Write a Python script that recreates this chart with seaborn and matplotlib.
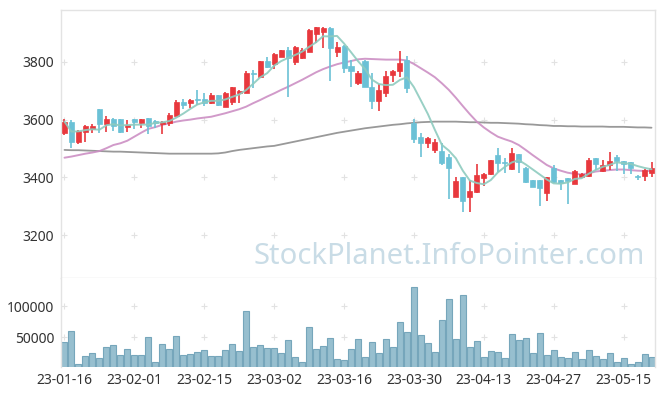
import numpy as np
import pandas as pd
import matplotlib
matplotlib.use("Agg")
import matplotlib.pyplot as plt
import seaborn as sns

# Korean market trading days, 2023-01-16 .. 2023-05-19
holidays = ["2023-01-23", "2023-01-24", "2023-03-01", "2023-05-01", "2023-05-05"]
dates = pd.bdate_range("2023-01-16", "2023-05-19", freq="C", holidays=holidays)

opens = [3555, 3593, 3524, 3558, 3568, 3637, 3586, 3602, 3602, 3576,
         3602, 3590, 3605, 3595, 3586, 3590, 3613, 3661, 3656, 3670,
         3672, 3656, 3686, 3645, 3660, 3691, 3694, 3763, 3749, 3803,
         3792, 3818, 3842, 3801, 3815, 3836, 3897, 3905, 3918, 3836,
         3855, 3786, 3726, 3803, 3714, 3666, 3694, 3755, 3769, 3807,
         3590, 3539, 3520, 3495, 3491, 3471, 3333, 3401, 3333, 3350,
         3399, 3412, 3477, 3452, 3429, 3481, 3431, 3391, 3391, 3345,
         3434, 3391, 3399, 3376, 3400, 3406, 3466, 3422, 3443, 3472,
         3457, 3454, 3405, 3406, 3414]
highs = [3601, 3597, 3563, 3580, 3584, 3637, 3612, 3604, 3602, 3599,
         3603, 3602, 3606, 3597, 3595, 3622, 3668, 3672, 3670, 3701,
         3694, 3691, 3686, 3696, 3712, 3701, 3769, 3772, 3803, 3816,
         3830, 3843, 3851, 3855, 3847, 3913, 3921, 3920, 3920, 3870,
         3860, 3807, 3768, 3805, 3761, 3723, 3769, 3771, 3838, 3821,
         3601, 3555, 3541, 3532, 3518, 3481, 3402, 3401, 3391, 3445,
         3414, 3460, 3501, 3468, 3501, 3481, 3437, 3391, 3391, 3400,
         3441, 3391, 3399, 3424, 3416, 3466, 3466, 3460, 3487, 3478,
         3457, 3454, 3408, 3428, 3452]
lows = [3547, 3501, 3516, 3524, 3555, 3555, 3558, 3561, 3555, 3558,
        3569, 3572, 3549, 3570, 3549, 3578, 3611, 3636, 3639, 3651,
        3648, 3653, 3648, 3645, 3649, 3657, 3694, 3711, 3749, 3780,
        3775, 3816, 3677, 3790, 3809, 3836, 3865, 3847, 3735, 3816,
        3761, 3714, 3720, 3712, 3636, 3631, 3680, 3732, 3749, 3694,
        3520, 3469, 3501, 3486, 3443, 3324, 3333, 3279, 3279, 3345,
        3371, 3408, 3420, 3416, 3426, 3414, 3379, 3365, 3301, 3318,
        3380, 3356, 3308, 3376, 3400, 3402, 3426, 3420, 3426, 3423,
        3412, 3412, 3391, 3388, 3400]
closes = [3593, 3524, 3561, 3577, 3578, 3585, 3602, 3578, 3557, 3583,
          3593, 3602, 3579, 3587, 3592, 3616, 3661, 3649, 3668, 3667,
          3656, 3686, 3649, 3691, 3712, 3698, 3763, 3757, 3803, 3784,
          3828, 3842, 3813, 3853, 3842, 3911, 3921, 3918, 3850, 3851,
          3780, 3770, 3763, 3714, 3666, 3703, 3752, 3769, 3798, 3711,
          3533, 3520, 3535, 3524, 3451, 3434, 3387, 3319, 3353, 3408,
          3412, 3460, 3451, 3449, 3486, 3452, 3385, 3365, 3362, 3400,
          3383, 3379, 3387, 3423, 3412, 3460, 3445, 3441, 3457, 3457,
          3445, 3434, 3402, 3425, 3434]
ma20 = [3468, 3472, 3477, 3482, 3486, 3491, 3501, 3512, 3518, 3527,
        3541, 3555, 3568, 3574, 3582, 3587, 3593, 3597, 3600, 3604,
        3607, 3610, 3616, 3622, 3629, 3636, 3645, 3657, 3668, 3680,
        3691, 3703, 3714, 3726, 3738, 3751, 3764, 3775, 3784, 3792,
        3798, 3803, 3809, 3811, 3810, 3809, 3808, 3808, 3808, 3805,
        3793, 3778, 3763, 3747, 3726, 3703, 3676, 3647, 3619, 3593,
        3573, 3556, 3541, 3532, 3524, 3512, 3495, 3477, 3460, 3443,
        3431, 3423, 3416, 3412, 3410, 3414, 3420, 3423, 3425, 3427,
        3427, 3425, 3423, 3422, 3422]
ma60 = [3495, 3494, 3494, 3493, 3492, 3491, 3490, 3489, 3489, 3488,
        3487, 3486, 3485, 3484, 3483, 3482, 3482, 3482, 3482, 3482,
        3482, 3482, 3483, 3486, 3491, 3495, 3498, 3501, 3504, 3507,
        3509, 3514, 3519, 3524, 3529, 3534, 3539, 3544, 3549, 3554,
        3558, 3562, 3566, 3570, 3573, 3576, 3579, 3582, 3584, 3587,
        3589, 3591, 3592, 3593, 3593, 3593, 3593, 3592, 3591, 3591,
        3590, 3589, 3589, 3588, 3587, 3586, 3584, 3583, 3581, 3580,
        3578, 3578, 3577, 3577, 3576, 3576, 3576, 3576, 3575, 3575,
        3575, 3574, 3573, 3573, 3572]
volumes = [42000, 59600, 6900, 19700, 24500, 16500, 34000, 37200, 21300, 30900,
           21300, 21300, 50000, 10100, 38800, 30900, 51600, 21300, 22900, 26100,
           29300, 19700, 19700, 29300, 38800, 27700, 93100, 34000, 37200, 32400,
           32400, 24500, 45200, 18100, 10100, 66000, 30900, 35600, 48400, 14900,
           13300, 30900, 46800, 18100, 42000, 24500, 46800, 34000, 75500, 58000,
           131400, 53200, 40400, 26100, 78700, 112200, 46800, 118600, 34000, 43600,
           18100, 27700, 26100, 16500, 54800, 45200, 48400, 24500, 56400, 21300,
           29300, 18100, 16500, 26100, 14900, 29300, 19700, 14900, 24500, 10100,
           16500, 6900, 10100, 22900, 18100]

df = pd.DataFrame({"date": dates, "open": opens, "high": highs, "low": lows,
                   "close": closes, "ma20": ma20, "ma60": ma60, "volume": volumes})
df["idx"] = np.arange(len(df))
df["ma5"] = df["close"].rolling(5, min_periods=1).mean()

UP = "#e8383d"
DOWN = "#6bc1d6"
GRID = "#e2e2e2"
SPINE = "#e3e3e3"

sns.set_style("white")
plt.rcParams["font.family"] = ["Noto Sans", "DejaVu Sans"]

fig = plt.figure(figsize=(6.65, 3.96), dpi=100)
ax = fig.add_axes([61 / 665, 1 - 278 / 396, 594 / 665, 268 / 396])
axv = fig.add_axes([61 / 665, 1 - 367 / 396, 594 / 665, 89 / 396], sharex=ax)

# watermark
ax.text(0.983, 0.08, "StockPlanet.InfoPointer.com", transform=ax.transAxes,
        ha="right", va="center", fontsize=21, color="#c9dce6", zorder=0)

# moving averages
sns.lineplot(data=df, x="idx", y="ma60", ax=ax, color="#999999", lw=1.3, zorder=2)
sns.lineplot(data=df, x="idx", y="ma20", ax=ax, color="#cc8fc4", lw=1.4, alpha=0.9, zorder=2)
sns.lineplot(data=df, x="idx", y="ma5", ax=ax, color="#8ecbbf", lw=1.4, alpha=0.9, zorder=4)

# candles
up = df["close"] >= df["open"]
for mask, col in [(up, UP), (~up, DOWN)]:
    d = df[mask]
    ax.vlines(d["idx"], d["low"], d["high"], color=col, lw=1.2, zorder=3)
    body = (d["close"] - d["open"]).abs().clip(lower=2)
    ax.bar(d["idx"], body, bottom=d[["open", "close"]].min(axis=1), width=0.72,
           color=col, edgecolor=col, lw=0.5, zorder=3)

# volume
sns.barplot(data=df, x="idx", y="volume", ax=axv, native_scale=True, width=0.86,
            color="#97bfcf", edgecolor="#76a6bb", linewidth=0.8, saturation=1, zorder=2)

ax.set_xlim(-0.5, len(df) - 0.5)
ax.set_ylim(3051, 3980)
axv.set_ylim(2600, 145200)

xt = df["idx"][::10]
yt = [3200, 3400, 3600, 3800]
vt = [50000, 100000]
ax.set_yticks(yt)
axv.set_yticks(vt)
axv.set_xticks(xt)
axv.set_xticklabels(df["date"].dt.strftime("%y-%m-%d")[::10])

# "+" shaped grid marks, kept behind the marks
gx, gy = np.meshgrid(xt, yt)
ax.scatter(gx.ravel(), gy.ravel(), marker="+", s=14, color=GRID, lw=0.8, zorder=0)
gx, gy = np.meshgrid(xt, vt)
axv.scatter(gx.ravel(), gy.ravel(), marker="+", s=14, color=GRID, lw=0.8, zorder=0)

for a in (ax, axv):
    a.set_xlabel("")
    a.set_ylabel("")
    a.tick_params(length=0, labelsize=10, colors="#333333", pad=5)
    for s in a.spines.values():
        s.set_color(SPINE)
        s.set_linewidth(1)
plt.setp(ax.get_xticklabels(), visible=False)
axv.spines["bottom"].set_visible(False)
axv.spines["top"].set_visible(False)
axv.tick_params(axis="x", pad=4)

fig.savefig("out.png", dpi=100)
